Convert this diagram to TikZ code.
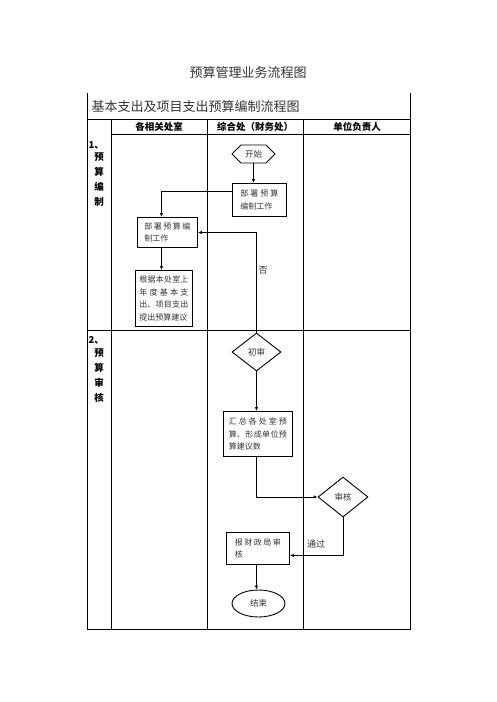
\documentclass[tikz,border=0pt]{standalone}
\usepackage{fontspec}
\usepackage{tikz}
\usetikzlibrary{arrows.meta, shapes.geometric, shapes.symbols}
\newfontfamily\cjk{Noto Sans CJK SC}
\XeTeXlinebreaklocale "zh"
\XeTeXlinebreakskip=0pt plus 3pt
\setlength{\parindent}{0pt}

\begin{document}
\begin{tikzpicture}[x=1pt, y=-1pt,
        grid/.style={line width=1pt},
        box/.style={draw, line width=0.9pt, anchor=north west, align=justify, inner ysep=0pt,
            font=\cjk\fontsize{8}{12.7}\selectfont, text=black!80},
        shp/.style={draw, line width=0.9pt, inner sep=0pt, font=\cjk\fontsize{8.5}{10}\selectfont, text=black!80},
        arr/.style={line width=0.8pt, -{Latex[length=4pt,width=3.4pt]}},
        head/.style={inner sep=0.5pt, font=\cjk\bfseries\fontsize{9.5}{11}\selectfont},
        lbl/.style={inner sep=0.5pt, font=\cjk\fontsize{9}{10}\selectfont, text=black!80}]
        \useasboundingbox (0,0) rectangle (496,702);

        \node[lbl, font=\cjk\fontsize{13}{15}\selectfont] (title) at (248,73) {预算管理业务流程图};
        \node[lbl, anchor=west, font=\cjk\fontsize{13}{15}\selectfont] (subtitle) at (91,107) {基本支出及项目支出预算编制流程图};

        \draw[grid] (87,93) -- (87,629) -- (410,629) -- (410,93);
        \draw[grid] (87,119) -- (410,119);
        \draw[grid] (111,134) -- (410,134);
        \draw[grid] (87,330) -- (410,330);
        \foreach \x in {111,207,303}
            \draw[grid] (\x,119) -- (\x,629);

        \node[head] (h1) at (159,127) {各相关处室};
        \node[head] (h2) at (255,127) {综合处（财务处）};
        \node[head] (h3) at (357,127) {单位负责人};

        \node[head, anchor=west] (r1) at (88,145) {1、};
        \foreach \c [count=\i] in {预,算,编,制}
            \node[head] (r1-\i) at (99,{142+15*\i}) {\c};
        \node[head, anchor=west] (r2) at (88,340) {2、};
        \foreach \c [count=\i] in {预,算,审,核}
            \node[head] (r2-\i) at (99,{338+15*\i}) {\c};

        \node[shp, signal, signal to=west and east, minimum width=43, minimum height=18] (start) at (253.5,154) {开始};
        \node[box, text width=38, inner xsep=8, minimum height=33] (deploy) at (232,183) {部署预算\linebreak 编制工作};
        \node[box, text width=46, inner xsep=7, minimum height=30] (notice) at (137,217) {部署预算编\linebreak 制工作};
        \node[box, text width=49, inner xsep=4, minimum height=56] (propose) at (135,270) {根据本处室上\linebreak 年度基本支\linebreak 出、项目支出\linebreak 提出预算建议};
        \node[shp, diamond, aspect=1.3, minimum width=49, minimum height=38] (firstcheck) at (256.5,352) {初审};
        \node[box, text width=58, inner xsep=5.5, minimum height=45] (summary) at (223,411) {汇总各处室预\linebreak 算、形成单位预\linebreak 算建议数};
        \node[shp, diamond, aspect=1.3, minimum width=50, minimum height=40] (approve) at (343,497) {审核};
        \node[box, text width=46, inner xsep=8.5, minimum height=32] (report) at (226,532) {报财政局审\linebreak 核};
        \node[shp, ellipse, minimum width=53, minimum height=27] (finish) at (258.5,603.5) {结束};

        \draw[arr] (start.south) -- (start.south |- deploy.north);
        \draw[arr] ([yshift=-8pt]deploy.north west) -| ([xshift=-6pt]notice.north);
        \draw[arr] ([xshift=-6pt]notice.south) -- ([xshift=-6pt]notice.south |- propose.north);
        \draw[arr] (firstcheck.north) |- (notice.east);
        \node[lbl, anchor=west] (no) at (258,270) {否};
        \draw[arr] (firstcheck.south) -- (firstcheck.south |- summary.north);
        \draw[arr] ([xshift=-1.5pt]summary.south) |- (approve.west);
        \draw[arr] (approve.south) |- ([yshift=-7pt]report.east);
        \node[lbl] (pass) at (316,544) {通过};
        \draw[arr] ([xshift=-1.5pt]report.south) -- ([xshift=-1.5pt]report.south |- finish.north);
    \end{tikzpicture}
\end{document}
